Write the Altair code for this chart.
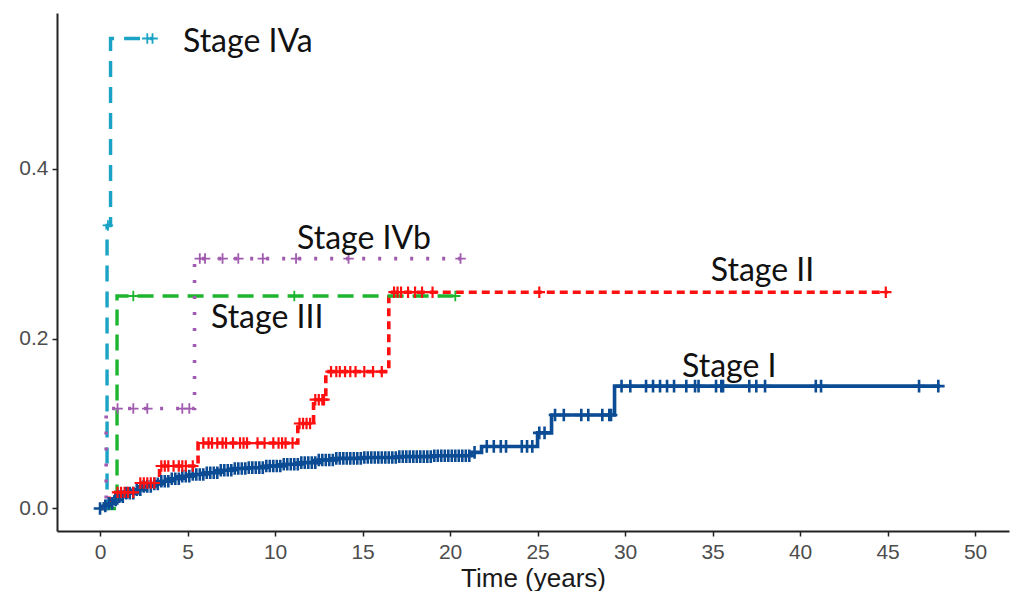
import altair as alt
import pandas as pd

# ---------------- data ----------------
stage_names = ["Stage I", "Stage II", "Stage III", "Stage IVa", "Stage IVb"]

s1_t = [0, 0.2, 0.5, 0.8, 1.1, 1.5, 2.0, 2.5, 3.0, 3.5, 4.0, 4.6, 5.3, 6.0, 6.8, 7.6,
        8.5, 9.5, 10.5, 11.5, 12.5, 13.5, 15.0, 17.0, 19.0, 21.2, 21.8, 25.0, 25.8, 29.4, 48.0]
s1_y = [0, 0.003, 0.006, 0.010, 0.014, 0.018, 0.022, 0.026, 0.029, 0.032, 0.035, 0.038,
        0.040, 0.042, 0.045, 0.047, 0.048, 0.050, 0.052, 0.054, 0.057, 0.059, 0.060,
        0.061, 0.062, 0.066, 0.073, 0.089, 0.110, 0.144, 0.144]
s1_cens = [0.0, 0.3, 0.5, 0.7, 0.9, 1.1, 1.3, 1.5, 1.7, 1.9, 2.1, 2.3, 2.5, 2.7, 2.9,
           3.1, 3.3, 3.5, 3.7, 3.9, 4.1, 4.3, 4.5, 4.7, 4.9, 5.1, 5.3, 5.5, 5.7, 5.9,
           6.1, 6.3, 6.5, 6.7, 6.9, 7.1, 7.3, 7.5, 7.7, 7.9, 8.1, 8.3, 8.5, 8.7, 8.9,
           9.1, 9.3, 9.5, 9.7, 9.9, 10.1, 10.3, 10.5, 10.7, 10.9, 11.1, 11.3, 11.5,
           11.7, 11.9, 12.1, 12.3, 12.5, 12.7, 12.9, 13.1, 13.3, 13.5, 13.7, 13.9,
           14.1, 14.3, 14.5, 14.7, 14.9, 15.1, 15.3, 15.5, 15.7, 15.9, 16.1, 16.3,
           16.5, 16.7, 16.9, 17.1, 17.3, 17.5, 17.7, 17.9, 18.1, 18.3, 18.5, 18.7,
           18.9, 19.1, 19.3, 19.5, 19.7, 19.9, 20.1, 20.3, 20.5, 20.7, 20.9, 21.1,
           21.4, 22.1, 22.5, 22.9, 23.2, 24.1, 24.4, 24.7, 25.1, 25.4, 26.0, 26.5,
           27.5, 27.9, 28.7, 29.1, 29.2, 29.8, 30.3, 31.2, 31.6, 32.0, 32.4, 32.8, 33.5,
           34.0, 34.2, 35.2, 35.5, 35.6, 37.1, 37.5, 38.0, 40.9, 41.2, 46.8, 47.9]

s2_t = [0, 0.55, 0.9, 2.2, 3.4, 5.6, 11.3, 12.2, 12.9, 16.5, 45.0]
s2_y = [0, 0.012, 0.019, 0.030, 0.050, 0.077, 0.100, 0.128, 0.161, 0.2545, 0.2545]
s2_cens = [1.0, 1.2, 1.4, 1.6, 1.9, 2.3, 2.5, 2.7, 2.9, 3.1, 3.5, 3.7, 3.9, 4.2, 4.5, 4.7,
           4.9, 5.3, 5.9, 6.2, 6.4, 6.7, 7.0, 7.2, 7.6, 8.0, 8.2, 8.4, 9.0, 9.4, 9.9,
           10.2, 10.4, 10.6, 11.0, 11.4, 11.6, 11.8, 12.0, 12.3, 12.5, 12.7, 12.8,
           13.2, 13.5, 13.7, 14.0, 14.3, 14.6, 15.1, 15.6, 16.1, 16.8, 17.0, 17.2,
           17.6, 18.0, 18.4, 19.0, 25.1, 44.9]

s3_t = [0, 0.97, 20.3]
s3_y = [0, 0.25, 0.25]
s3_cens = [1.9, 11.1, 20.3]

s4a_t = [0, 0.4, 0.6, 3.0]
s4a_y = [0, 0.333, 0.553, 0.553]
s4a_cens = [0.45, 2.7, 3.0]

s4b_t = [0, 0.35, 5.4, 20.6]
s4b_y = [0, 0.1176, 0.294, 0.294]
s4b_cens = [1.0, 1.9, 2.7, 4.7, 5.1, 5.7, 6.0, 7.0, 7.9, 9.3, 11.2, 14.2, 20.6]

label_text = ["Stage IVa", "Stage IVb", "Stage III", "Stage II", "Stage I"]
label_t = [4.74, 11.26, 6.34, 34.9, 33.26]
label_y = [0.549, 0.317, 0.224, 0.279, 0.166]

x_ticks = [0, 5, 10, 15, 20, 25, 30, 35, 40, 45, 50]
y_ticks = [0.0, 0.2, 0.4]

# ---------------- styling ----------------
colors = ["#0b4c94", "#ff1010", "#1db530", "#1aa3c4", "#a05aae"]
dashes = [None, [8, 5], [16, 9], [16, 10], [3, 13]]
widths = [3.6, 3.6, 3.4, 3.4, 3.6]
cens_size = [160, 130, 110, 110, 110]
cens_width = [2.6, 2.2, 1.8, 1.8, 1.8]


def step_value(ts, ys, t):
    v = ys[0]
    for a, b in zip(ts, ys):
        if a <= t:
            v = b
    return v


xs = alt.Scale(domain=[-2.46, 51.94], nice=False, zero=False)
ys = alt.Scale(domain=[-0.0265, 0.583], nice=False, zero=False)

x_axis = alt.Axis(values=x_ticks, title="Time (years)", grid=False,
                  domainColor="#222222", domainWidth=2, tickColor="#222222",
                  tickWidth=1.5, tickSize=5, labelFontSize=21, labelColor="#4d4d4d",
                  labelFont="Liberation Sans", titleFont="Liberation Sans",
                  titleFontSize=26, titleFontWeight="normal", titleColor="#1a1a1a",
                  labelPadding=5, titlePadding=3, labelFlush=False)
y_axis = alt.Axis(values=y_ticks, format=".1f", title="", grid=False,
                  domainColor="#222222", domainWidth=2, tickColor="#222222",
                  tickWidth=1.5, tickSize=5, labelFontSize=21, labelColor="#4d4d4d",
                  labelFont="Liberation Sans", labelPadding=4, labelFlush=False)

series = [
    (s1_t, s1_y, s1_cens),
    (s2_t, s2_y, s2_cens),
    (s3_t, s3_y, s3_cens),
    (s4a_t, s4a_y, s4a_cens),
    (s4b_t, s4b_y, s4b_cens),
]

layers = []
for i, (ts, yv, cens) in enumerate(series):
    df = pd.DataFrame({"t": ts, "y": yv, "stage": stage_names[i]})
    kw = dict(interpolate="step-after", color=colors[i], strokeWidth=widths[i],
              strokeCap="butt")
    if dashes[i] is not None:
        kw["strokeDash"] = dashes[i]
    line = alt.Chart(df).mark_line(**kw).encode(
        x=alt.X("t:Q", scale=xs, axis=x_axis),
        y=alt.Y("y:Q", scale=ys, axis=y_axis),
    )
    layers.append(line)

for i, (ts, yv, cens) in enumerate(series):
    cdf = pd.DataFrame({"t": cens, "y": [step_value(ts, yv, c) for c in cens],
                        "stage": stage_names[i]})
    pts = alt.Chart(cdf).mark_point(shape="M-1,0L1,0M0,-1L0,1", filled=False,
                                    size=cens_size[i], strokeWidth=cens_width[i],
                                    color=colors[i], opacity=1).encode(
        x=alt.X("t:Q", scale=xs, axis=x_axis),
        y=alt.Y("y:Q", scale=ys, axis=y_axis),
    )
    layers.append(pts)

ldf = pd.DataFrame({"label": label_text, "t": label_t, "y": label_y})
texts = alt.Chart(ldf).mark_text(align="left", baseline="middle", font="Lato",
                                 fontSize=32, color="#111111").encode(
    x=alt.X("t:Q", scale=xs, axis=x_axis),
    y=alt.Y("y:Q", scale=ys, axis=y_axis),
    text="label:N",
)
layers.append(texts)

chart = alt.layer(*layers).properties(
    width=952, height=518,
    padding={"left": 49, "top": 5, "right": 2, "bottom": 60},
    autosize=alt.AutoSizeParams(type="none"),
    background="white",
).configure_view(stroke=None)

chart.save("out.html", embed_options={"renderer": "svg", "actions": False})
